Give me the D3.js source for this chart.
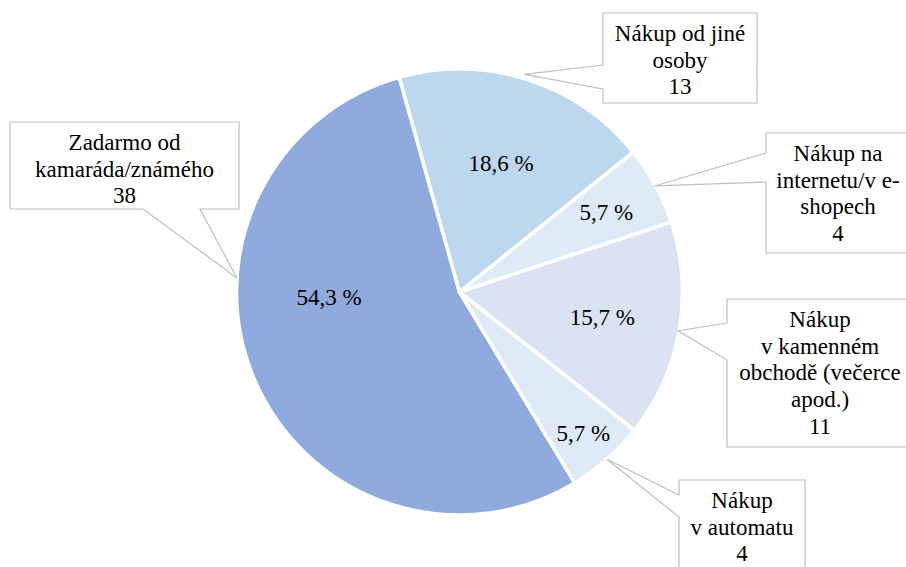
<!DOCTYPE html>
<html>
<head>
<meta charset="utf-8">
<script src="https://d3js.org/d3.v7.min.js"></script>
<style>
  body { margin: 0; background: #fff; }
  text { font-family: 'Liberation Serif', 'Times New Roman', Times, 'DejaVu Serif', serif; }
</style>
</head>
<body>
<svg width="906" height="567"></svg>
<script>
// data
var categories = ["Zadarmo od kamaráda/známého", "Nákup od jiné osoby", "Nákup na internetu/v e-shopech",
                  "Nákup v kamenném obchodě (večerce apod.)", "Nákup v automatu"];
var values = [38, 13, 4, 11, 4];
var percentLabels = ["54,3 %", "18,6 %", "5,7 %", "15,7 %", "5,7 %"];
var calloutLines = [
  ["Zadarmo od", "kamaráda/známého", "38"],
  ["Nákup od jiné", "osoby", "13"],
  ["Nákup na", "internetu/v e-", "shopech", "4"],
  ["Nákup", "v kamenném", "obchodě (večerce", "apod.)", "11"],
  ["Nákup", "v automatu", "4"]
];
var colors = ["#8faadc", "#bdd7ee", "#deebf7", "#dae3f3", "#deebf7"];

// layout of labels (angle override in degrees or null = slice middle, radius fraction)
var pctPos = [[268, 0.585], [null, 0.61], [null, 0.75], [null, 0.65], [null, 0.84]];
// callout boxes: x0, y0, x1, y1, side of pointer, pointer base a, b, tip angle override, tip radius
var boxes = [
  {x0: 10,  y0: 122, x1: 239, y1: 209, side: "bottom", a: 143, b: 200, tipA: 273.6, tipR: 223},
  {x0: 603, y0: 13,  x1: 757, y1: 103, side: "left",   a: 65,  b: 89,  tipA: 16.6,  tipR: 227},
  {x0: 766, y0: 133, x1: 910, y1: 253, side: "left",   a: 153, b: 182, tipA: null,  tipR: 222},
  {x0: 727, y0: 299, x1: 913, y1: 447, side: "left",   a: 323, b: 360, tipA: null,  tipR: 222},
  {x0: 679, y0: 480, x1: 805, y1: 600, side: "left",   a: 495, b: 517, tipA: null,  tipR: 223}
];

var svg = d3.select("svg");
var cx = 459.5, cy = 292, r = 223;
var rad = Math.PI / 180;
var fontSize = 23, lineH = 26.7;
var serif = "'Liberation Serif', 'Times New Roman', Times, 'DejaVu Serif', serif";

var pie = d3.pie().sort(null).value(function(d){ return d; })
  .startAngle(148.9 * rad).endAngle(148.9 * rad + 2 * Math.PI);
var arcs = pie(values);
var arc = d3.arc().innerRadius(0).outerRadius(r);

var g = svg.append("g").attr("transform", "translate(" + cx + "," + cy + ")");

g.selectAll("path.slice")
  .data(arcs)
  .enter()
  .append("path")
  .attr("class", "slice")
  .attr("d", arc)
  .attr("fill", function(d, i){ return colors[i]; })
  .attr("stroke", "#fff")
  .attr("stroke-width", 3.5)
  .attr("stroke-linejoin", "round");

function polar(angle, radius) {
  return [Math.sin(angle) * radius, -Math.cos(angle) * radius];
}
function midAngle(d) { return (d.startAngle + d.endAngle) / 2; }

// percentage labels
g.selectAll("text.pct")
  .data(arcs)
  .enter()
  .append("text")
  .attr("class", "pct")
  .attr("transform", function(d, i){
    var a = pctPos[i][0] === null ? midAngle(d) : pctPos[i][0] * rad;
    var p = polar(a, r * pctPos[i][1]);
    return "translate(" + p[0] + "," + p[1] + ")";
  })
  .attr("text-anchor", "middle")
  .attr("dy", "0.35em")
  .attr("font-family", serif)
  .attr("font-size", fontSize)
  .attr("fill", "#000")
  .text(function(d, i){ return percentLabels[i]; });

// callouts
function calloutPath(b, tip) {
  var tx = tip[0], ty = tip[1];
  if (b.side === "left") {
    return "M" + b.x0 + "," + b.y0 + "H" + b.x1 + "V" + b.y1 + "H" + b.x0 +
      "V" + b.b + "L" + tx + "," + ty + "L" + b.x0 + "," + b.a + "Z";
  }
  return "M" + b.x0 + "," + b.y0 + "H" + b.x1 + "V" + b.y1 + "H" + b.b +
    "L" + tx + "," + ty + "L" + b.a + "," + b.y1 + "H" + b.x0 + "Z";
}

var callouts = svg.append("g").selectAll("g")
  .data(arcs)
  .enter()
  .append("g");

callouts.append("path")
  .attr("d", function(d, i){
    var b = boxes[i];
    var a = b.tipA === null ? midAngle(d) : b.tipA * rad;
    var p = polar(a, b.tipR);
    return calloutPath(b, [cx + p[0], cy + p[1]]);
  })
  .attr("fill", "#fff")
  .attr("stroke", "#bfbfbf")
  .attr("stroke-width", 1.2);

callouts.each(function(d, i){
  var b = boxes[i];
  var lines = calloutLines[i];
  var midX = (b.x0 + b.x1) / 2;
  var t = d3.select(this).append("text")
    .attr("text-anchor", "middle")
    .attr("font-family", serif)
    .attr("font-size", fontSize)
    .attr("fill", "#000");
  lines.forEach(function(s, k){
    t.append("tspan")
      .attr("x", midX)
      .attr("y", b.y0 + 28 + k * lineH)
      .text(s);
  });
});
</script>
</body>
</html>
